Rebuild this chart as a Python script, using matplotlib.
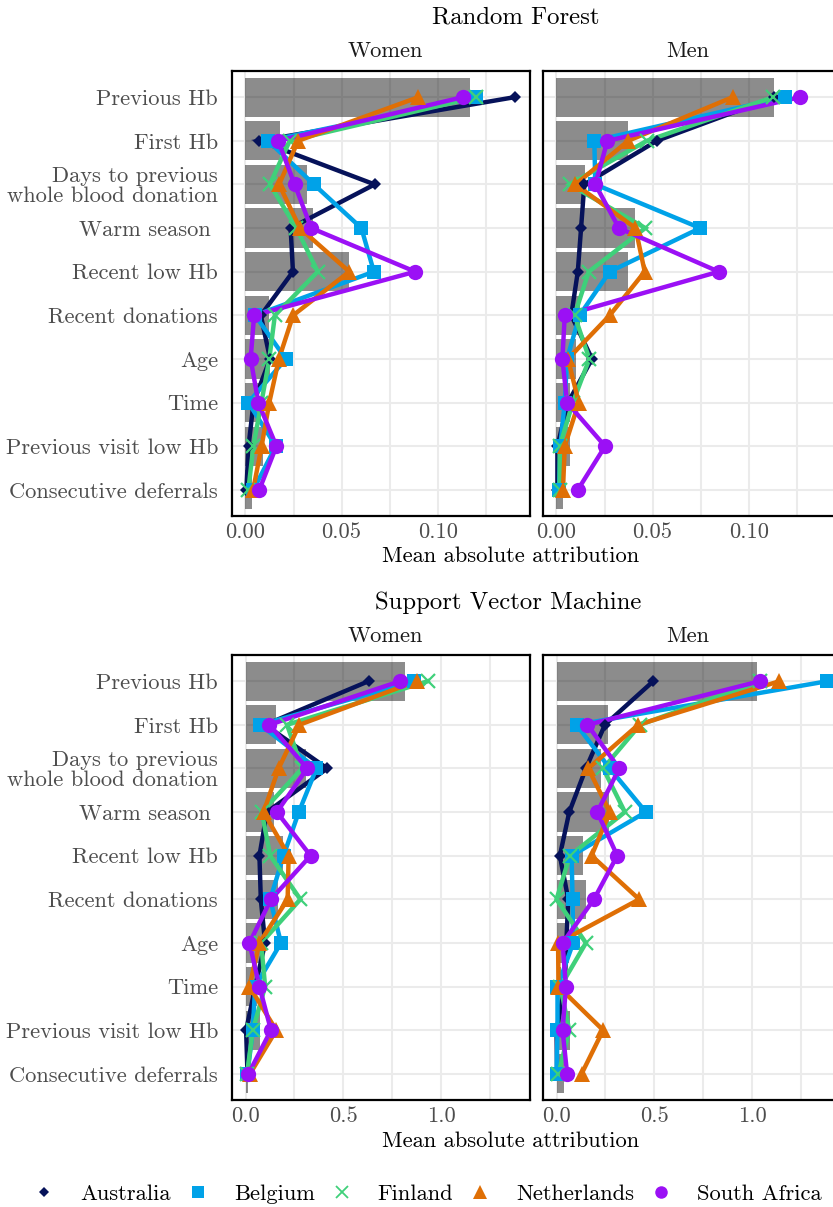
import matplotlib
matplotlib.use('Agg')
import matplotlib.pyplot as plt
from matplotlib.lines import Line2D

plt.rcParams['font.family'] = ['cmr10', 'DejaVu Serif']
plt.rcParams['mathtext.fontset'] = 'cm'
plt.rcParams['axes.formatter.use_mathtext'] = True

features = ["Previous Hb", "First Hb", "Days to previous\nwhole blood donation",
            "Warm season ", "Recent low Hb", "Recent donations", "Age", "Time",
            "Previous visit low Hb", "Consecutive deferrals"]
countries = ["Australia", "Belgium", "Finland", "Netherlands", "South Africa"]

# Random Forest, women
rf_women_aus = [0.140, 0.0073, 0.0672, 0.0235, 0.0247, 0.0080, 0.0128, 0.0042, 0.0016, 0.0005]
rf_women_bel = [0.120, 0.0118, 0.0356, 0.0603, 0.0668, 0.0050, 0.0210, 0.0015, 0.0158, 0.0041]
rf_women_fin = [0.120, 0.0230, 0.0127, 0.0265, 0.0376, 0.0153, 0.0124, 0.0083, 0.0041, 0.0015]
rf_women_nld = [0.090, 0.0274, 0.0175, 0.0283, 0.0540, 0.0248, 0.0174, 0.0124, 0.0084, 0.0040]
rf_women_zaf = [0.113, 0.0170, 0.0256, 0.0342, 0.0883, 0.0045, 0.0027, 0.0067, 0.0161, 0.0072]
rf_women_bar = [0.117, 0.018, 0.032, 0.035, 0.054, 0.012, 0.013, 0.0068, 0.0092, 0.0035]

# Random Forest, men
rf_men_aus = [0.1134, 0.0522, 0.0145, 0.0128, 0.0111, 0.0077, 0.0185, 0.0060, 0.0005, 0.0005]
rf_men_bel = [0.1190, 0.0197, 0.0202, 0.0748, 0.0277, 0.0120, 0.0055, 0.0043, 0.0020, 0.0013]
rf_men_fin = [0.1127, 0.0470, 0.0068, 0.0462, 0.0168, 0.0094, 0.0171, 0.0085, 0.0017, 0.0017]
rf_men_nld = [0.0916, 0.0373, 0.0099, 0.0411, 0.0459, 0.0277, 0.0060, 0.0116, 0.0043, 0.0034]
rf_men_zaf = [0.1267, 0.0265, 0.0202, 0.0325, 0.0844, 0.0043, 0.0031, 0.0055, 0.0253, 0.0111]
rf_men_bar = [0.113, 0.037, 0.0149, 0.041, 0.0373, 0.0122, 0.010, 0.0072, 0.0068, 0.0036]

# Support Vector Machine, women
svm_women_aus = [0.628, 0.100, 0.417, 0.109, 0.071, 0.078, 0.100, 0.050, 0.003, 0.010]
svm_women_bel = [0.860, 0.075, 0.362, 0.272, 0.194, 0.126, 0.181, 0.049, 0.037, 0.010]
svm_women_fin = [0.931, 0.212, 0.289, 0.083, 0.126, 0.280, 0.080, 0.100, 0.037, 0.008]
svm_women_nld = [0.873, 0.275, 0.169, 0.092, 0.220, 0.215, 0.071, 0.020, 0.157, 0.023]
svm_women_zaf = [0.789, 0.122, 0.315, 0.160, 0.332, 0.130, 0.020, 0.071, 0.130, 0.015]
svm_women_bar = [0.815, 0.155, 0.310, 0.143, 0.189, 0.166, 0.090, 0.058, 0.073, 0.013]

# Support Vector Machine, men
svm_men_aus = [0.494, 0.247, 0.150, 0.065, 0.017, 0.060, 0.050, 0.042, 0.000, 0.003]
svm_men_bel = [1.383, 0.102, 0.272, 0.456, 0.077, 0.082, 0.085, 0.005, 0.005, 0.000]
svm_men_fin = [1.040, 0.426, 0.238, 0.349, 0.068, 0.000, 0.150, 0.020, 0.065, 0.010]
svm_men_nld = [1.138, 0.417, 0.162, 0.272, 0.179, 0.422, 0.008, 0.010, 0.238, 0.128]
svm_men_zaf = [1.039, 0.158, 0.320, 0.208, 0.310, 0.191, 0.031, 0.048, 0.031, 0.054]
svm_men_bar = [1.022, 0.264, 0.228, 0.270, 0.133, 0.151, 0.065, 0.025, 0.068, 0.040]

colors = ["#06125a", "#00a2e8", "#3fd07a", "#df6f05", "#9b10f5"]
markers = ["D", "s", "x", "^", "o"]
msizes = [6.5, 10, 10, 12, 11]
leg_sizes = [5.5, 8.5, 9, 10, 9]
FS = 16.2

W, H = 833, 1207
fig = plt.figure(figsize=(W / 100, H / 100), dpi=100)


def add_panel(left_px, top_px, bottom_px, series, bars, xlim, major, minor, ticklabels, show_y):
    ax = fig.add_axes([left_px / W, 1 - bottom_px / H, 298 / W, (bottom_px - top_px) / H])
    ypos = list(range(len(features)))
    ax.set_ylim(len(features) - 0.4, -0.6)
    ax.set_xlim(*xlim)
    for y in ypos:
        ax.axhline(y, color="#ebebeb", lw=1.5, zorder=0)
    for x in major + minor:
        ax.axvline(x, color="#ebebeb", lw=1.5, zorder=0)
    ax.barh(ypos, bars, height=0.9, color="black", alpha=0.45, lw=0, zorder=1)
    for vals, c in zip(series, colors):
        ax.plot(vals, ypos, color=c, lw=3.2, zorder=2, solid_joinstyle="miter")
    for vals, c, m, s in zip(series, colors, markers, msizes):
        ax.plot(vals, ypos, ls="none", marker=m, ms=s, color=c, mew=1.6 if m == "x" else 0, zorder=3)
    ax.set_xticks(major)
    ax.set_xticklabels(ticklabels)
    ax.set_yticks(ypos)
    if show_y:
        ax.set_yticklabels(features, linespacing=1.0)
    else:
        ax.set_yticklabels([])
    ax.tick_params(length=0, labelsize=FS, labelcolor="#4d4d4d")
    ax.tick_params(axis="y", pad=10)
    ax.tick_params(axis="x", pad=5)
    for sp in ax.spines.values():
        sp.set_linewidth(1.6)
        sp.set_color("black")
    return ax


rf_xlim = (-0.007, 0.148)
rf_major = [0.0, 0.05, 0.10]
rf_minor = [0.025, 0.075, 0.125]
rf_labels = ["0.00", "0.05", "0.10"]
svm_xlim = (-0.069, 1.452)
svm_major = [0.0, 0.5, 1.0]
svm_minor = [0.25, 0.75, 1.25]
svm_labels = ["0.0", "0.5", "1.0"]

add_panel(232, 71, 516, [rf_women_aus, rf_women_bel, rf_women_fin, rf_women_nld, rf_women_zaf],
          rf_women_bar, rf_xlim, rf_major, rf_minor, rf_labels, True)
add_panel(543, 71, 516, [rf_men_aus, rf_men_bel, rf_men_fin, rf_men_nld, rf_men_zaf],
          rf_men_bar, rf_xlim, rf_major, rf_minor, rf_labels, False)
add_panel(232, 655, 1100, [svm_women_aus, svm_women_bel, svm_women_fin, svm_women_nld, svm_women_zaf],
          svm_women_bar, svm_xlim, svm_major, svm_minor, svm_labels, True)
add_panel(543, 655, 1100, [svm_men_aus, svm_men_bel, svm_men_fin, svm_men_nld, svm_men_zaf],
          svm_men_bar, svm_xlim, svm_major, svm_minor, svm_labels, False)

# titles, strips, axis titles
fig.text(516 / W, 1 - 17 / H, "Random Forest", ha="center", va="center", fontsize=17.8)
fig.text(508 / W, 1 - 603 / H, "Support Vector Machine", ha="center", va="center", fontsize=17.8)
for ytop in (51, 636):
    fig.text(385 / W, 1 - ytop / H, "Women", ha="center", va="center", fontsize=FS, color="#1a1a1a")
    fig.text(688 / W, 1 - ytop / H, "Men", ha="center", va="center", fontsize=FS, color="#1a1a1a")
for yl in (556, 1141):
    fig.text(511 / W, 1 - yl / H, "Mean absolute attribution", ha="center", va="center", fontsize=FS)

handles = [Line2D([], [], ls="none", marker=m, ms=s, color=c, mew=1.3 if m == "x" else 0)
           for m, s, c in zip(markers, leg_sizes, colors)]
fig.legend(handles, countries, loc="center", bbox_to_anchor=(0.512, 1 - 1194 / H), ncol=5,
           frameon=False, fontsize=FS, handletextpad=1.0, columnspacing=0.6, handlelength=1.2)

fig.savefig("out.png", dpi=100)
plt.close(fig)
